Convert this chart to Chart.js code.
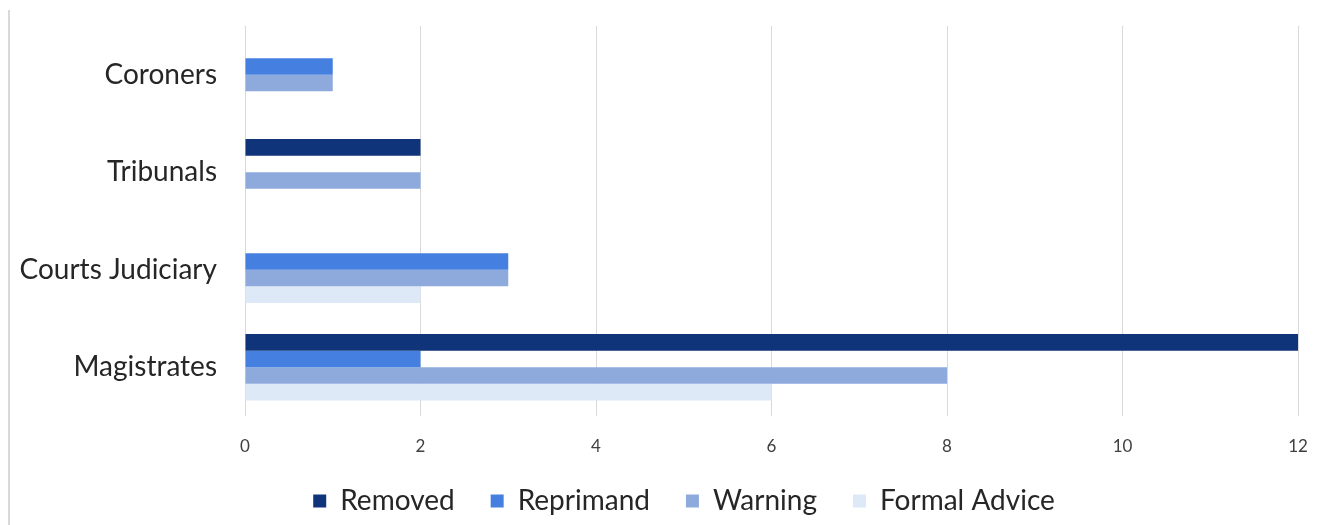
<!DOCTYPE html>
<html>
<head>
<meta charset="utf-8">
<script src="https://cdn.jsdelivr.net/npm/chart.js@4.4.1/dist/chart.umd.min.js"></script>
<style>
  html, body { margin: 0; padding: 0; background: #ffffff; overflow: hidden; }
  #frame { position: absolute; left: 8px; top: 10px; width: 2px; height: 515px; background: #d9d9d9; }
  #wrap { position: absolute; left: 0; top: 0; width: 1367px; height: 525px; }
</style>
</head>
<body>
<div id="frame"></div>
<div id="wrap"><canvas id="chart" width="1367" height="525"></canvas></div>
<script>
// Jurisdictions and outcome counts
const categories = ['Coroners', 'Tribunals', 'Courts Judiciary', 'Magistrates'];
const removed      = [0, 2, 0, 12];
const reprimand    = [1, 0, 3, 2];
const warning      = [1, 2, 3, 8];
const formalAdvice = [0, 0, 2, 6];
const xTicks = [0, 2, 4, 6, 8, 10, 12];

// Centre the legend under the whole frame rather than under the plot only
const legendShift = {
  id: 'legendShift',
  afterLayout(chart) {
    const lg = chart.legend;
    if (lg) { lg.left += 35; lg.right += 35; }
  }
};

const ctx = document.getElementById('chart').getContext('2d');
new Chart(ctx, {
  type: 'bar',
  data: {
    labels: categories,
    datasets: [
      { label: 'Removed', data: removed, backgroundColor: '#0f3479' },
      { label: 'Reprimand', data: reprimand, backgroundColor: '#4580e0' },
      { label: 'Warning', data: warning, backgroundColor: '#8eaadc' },
      { label: 'Formal Advice', data: formalAdvice, backgroundColor: '#dde9f6' }
    ]
  },
  options: {
    indexAxis: 'y',
    responsive: false,
    animation: false,
    datasets: { bar: { categoryPercentage: 0.68, barPercentage: 1.0, borderWidth: 0 } },
    layout: { padding: { top: 26, right: 69, bottom: 0, left: 0 } },
    scales: {
      x: {
        min: 0,
        max: 12,
        afterBuildTicks: s => { s.ticks = xTicks.map(v => ({ value: v })); },
        afterFit: s => { s.height = 35; s._computeLabelArea = () => undefined; },
        grid: { color: '#d9d9d9', lineWidth: 1, drawTicks: false },
        border: { display: false },
        ticks: { padding: 20, color: '#404040', font: { family: 'Lato', size: 17 } }
      },
      y: {
        afterFit: s => { s.width = 245; s.paddingTop = 0; s.paddingBottom = 0; },
        grid: { display: false, drawTicks: false },
        border: { display: false },
        ticks: { padding: 28, color: '#262626', font: { family: 'Lato', size: 28 } }
      }
    },
    plugins: {
      legend: {
        position: 'bottom',
        labels: {
          boxWidth: 13,
          boxHeight: 13,
          padding: 36,
          color: '#262626',
          font: { family: 'Lato', size: 28 }
        }
      },
      tooltip: { enabled: false }
    }
  },
  plugins: [legendShift]
});
</script>
</body>
</html>
